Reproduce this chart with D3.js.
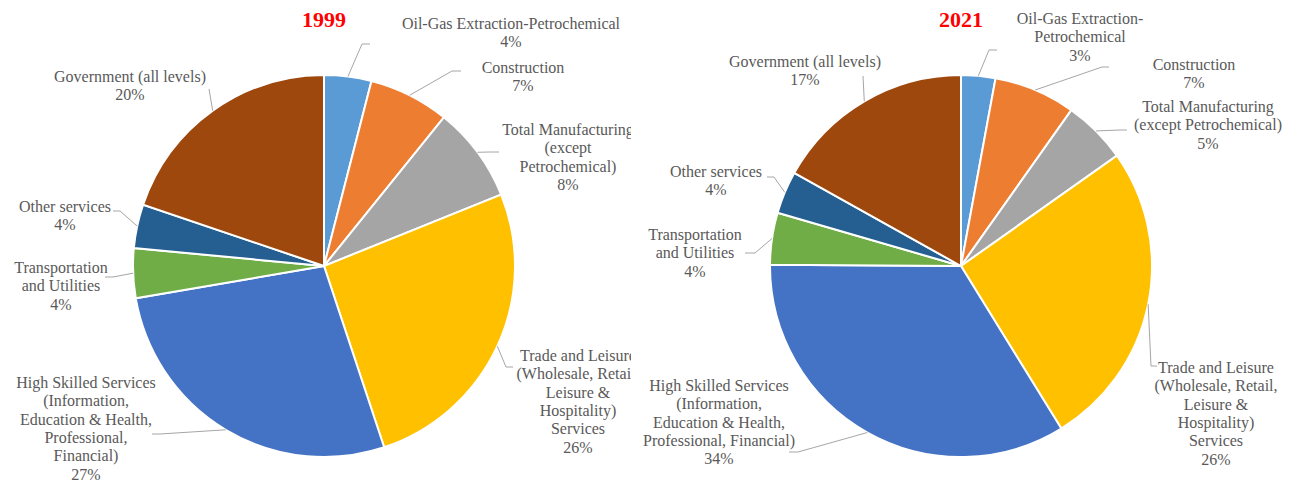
<!DOCTYPE html>
<html>
<head>
<meta charset="utf-8">
<script src="https://cdn.jsdelivr.net/npm/d3@7"></script>
<style>
  body { margin: 0; background: #fff; }
  svg text { font-family: "Liberation Serif", serif; }
</style>
</head>
<body>
<div id="chart"></div>
<script>
// sector shares (percent), clockwise from 12 o'clock
var categories = ["Oil-Gas", "Construction", "Manufacturing", "Trade", "High Skilled", "Transport", "Other", "Government"];
var colors = ["#5b9bd5", "#ed7d31", "#a5a5a5", "#ffc000", "#4472c4", "#70ad47", "#255e91", "#9e480e"];

var values1999 = [4.0, 6.8, 8.1, 26.0, 27.4, 4.2, 3.7, 19.8];
var values2021 = [2.9, 6.9, 5.4, 26.0, 33.9, 4.4, 3.6, 16.9];

var labels1999 = [
  ["Oil-Gas Extraction-Petrochemical"],
  ["Construction"],
  ["Total Manufacturing", "(except", "Petrochemical)"],
  ["Trade and Leisure", "(Wholesale, Retail,", "Leisure &", "Hospitality)", "Services"],
  ["High Skilled Services", "(Information,", "Education & Health,", "Professional,", "Financial)"],
  ["Transportation", "and Utilities"],
  ["Other services"],
  ["Government (all levels)"]
];
var labels2021 = [
  ["Oil-Gas Extraction-", "Petrochemical"],
  ["Construction"],
  ["Total Manufacturing", "(except Petrochemical)"],
  ["Trade and Leisure", "(Wholesale, Retail,", "Leisure &", "Hospitality)", "Services"],
  ["High Skilled Services", "(Information,", "Education & Health,", "Professional, Financial)"],
  ["Transportation", "and Utilities"],
  ["Other services"],
  ["Government (all levels)"]
];

// label placement: text centre x, first baseline y; leader elbow x,y and end x
var place1999 = [
  {tx: 511, ty: 29, ex: 362, ey: 44, hx: 370},
  {tx: 523, ty: 73, ex: 452, ey: 71, hx: 461},
  {tx: 568, ty: 135, ex: 490, ey: 152, hx: 499},
  {tx: 578, ty: 361, ex: 506, ey: 367, hx: 513},
  {tx: 86, ty: 388, ex: 160, ey: 434, hx: 152},
  {tx: 61, ty: 273, ex: 113, ey: 277, hx: 105},
  {tx: 65, ty: 212, ex: 120, ey: 211, hx: 113},
  {tx: 130, ty: 82, ex: 209, ey: 89, hx: 209}
];
var place2021 = [
  {tx: 1080, ty: 24, ex: 989, ey: 50, hx: 997},
  {tx: 1194, ty: 70, ex: 1102, ey: 67, hx: 1109},
  {tx: 1208, ty: 112, ex: 1120, ey: 130, hx: 1127},
  {tx: 1216, ty: 373, ex: 1151, ey: 366, hx: 1157},
  {tx: 719, ty: 391, ex: 798, ey: 452, hx: 789},
  {tx: 695, ty: 240, ex: 755, ey: 253, hx: 745},
  {tx: 716, ty: 177, ex: 774, ey: 177, hx: 767},
  {tx: 805, ty: 67, ex: 863, ey: 76, hx: 863}
];

var W = 1299, H = 481, R = 191, lineH = 18.3;

var svg = d3.select("#chart").append("svg").attr("width", W).attr("height", H);

svg.append("defs").append("clipPath").attr("id", "clipLeft")
  .append("rect").attr("x", 0).attr("y", 0).attr("width", 631).attr("height", H);

var pie = d3.pie().sort(null).value(function(d) { return d; });
var arc = d3.arc().innerRadius(0).outerRadius(R);

function drawPie(g, cx, cy, title, values, labels, place) {
  var arcs = pie(values);
  var total = d3.sum(values);

  g.append("text").attr("x", cx).attr("y", 27).attr("text-anchor", "middle")
    .style("font-size", "22px").style("font-weight", "bold").style("fill", "#ff0000")
    .text(title);

  var pg = g.append("g").attr("transform", "translate(" + cx + "," + cy + ")");
  pg.selectAll("path.slice").data(arcs).enter().append("path")
    .attr("class", "slice")
    .attr("d", arc)
    .style("fill", function(d, i) { return colors[i]; })
    .style("stroke", "#fff").style("stroke-width", 2);

  // leader lines
  g.selectAll("path.leader").data(arcs).enter().append("path")
    .attr("class", "leader")
    .attr("d", function(d, i) {
      var a = (d.startAngle + d.endAngle) / 2;
      var sx = cx + Math.sin(a) * R, sy = cy - Math.cos(a) * R;
      var p = place[i];
      return "M" + sx + "," + sy + "L" + p.ex + "," + p.ey + "L" + p.hx + "," + p.ey;
    })
    .style("fill", "none").style("stroke", "#a6a6a6").style("stroke-width", 1);

  // labels
  var lab = g.selectAll("text.lab").data(arcs).enter().append("text")
    .attr("class", "lab")
    .attr("text-anchor", "middle")
    .style("font-size", "16px").style("fill", "#595959");
  lab.each(function(d, i) {
    var t = d3.select(this);
    var lines = labels[i].concat([Math.round(d.data / total * 100) + "%"]);
    lines.forEach(function(s, k) {
      t.append("tspan").attr("x", place[i].tx).attr("y", place[i].ty + k * lineH).text(s);
    });
  });
}

drawPie(svg.append("g").attr("clip-path", "url(#clipLeft)"), 324, 266, "1999", values1999, labels1999, place1999);
drawPie(svg.append("g"), 961, 266, "2021", values2021, labels2021, place2021);
</script>
</body>
</html>
